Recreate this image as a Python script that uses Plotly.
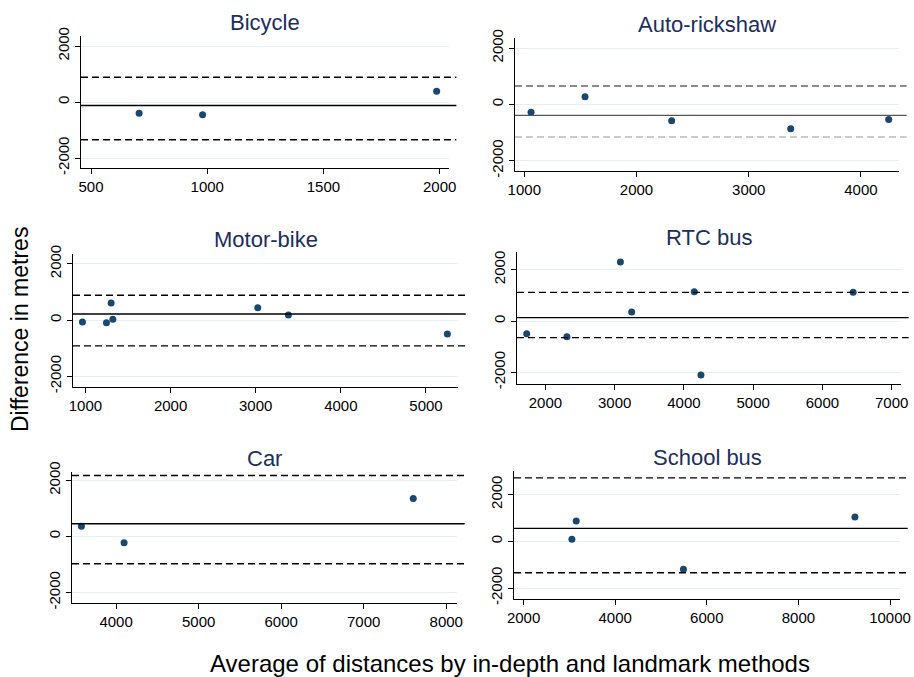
## Bland-Altman style panels: difference vs average distance, by travel mode

import plotly.graph_objects as go

W, H = 914, 677

# panel names
modes = ["Bicycle", "Auto-rickshaw", "Motor-bike", "RTC bus", "Car", "School bus"]

# average of distances (x) and difference in metres (y)
bicycle_x = [707, 980, 1987]
bicycle_y = [-400, -458, 386]
auto_x = [1060, 1541, 2313, 3374, 4247]
auto_y = [-284, 270, -581, -865, -534]
motor_x = [965, 1247, 1302, 1322, 3024, 3384, 5251]
motor_y = [-71, -96, 605, 25, 438, 178, -498]
rtc_x = [1730, 2311, 3083, 3246, 4150, 4246, 6444]
rtc_y = [-490, -607, 2296, 350, 1144, -2101, 1117]
car_x = [3580, 4097, 7600]
car_y = [367, -224, 1352]
school_x = [3055, 3149, 5490, 9234]
school_y = [85, 864, -1191, 1034]

# mean difference and limits of agreement per panel
mean_diff = [-125, -390, 214, 132, 452, 553]
upper_loa = [886, 649, 879, 1117, 2171, 2710]
lower_loa = [-1350, -1160, -915, -646, -972, -1349]

# x tick labels per panel
x_ticks = [
    [500, 1000, 1500, 2000],
    [1000, 2000, 3000, 4000],
    [1000, 2000, 3000, 4000, 5000],
    [2000, 3000, 4000, 5000, 6000, 7000],
    [4000, 5000, 6000, 7000, 8000],
    [2000, 4000, 6000, 8000, 10000],
]
y_ticks = [-2000, 0, 2000]

xs = [bicycle_x, auto_x, motor_x, rtc_x, car_x, school_x]
ys = [bicycle_y, auto_y, motor_y, rtc_y, car_y, school_y]

# layout: pixel boxes (left, right, top, bottom) and axis ranges
boxes = [(81, 449, 36, 168), (515, 899, 38, 171),
         (73, 458, 254, 387), (517, 901, 252, 384),
         (72, 457, 472, 603), (514, 900, 471, 599)]
x_ranges = [[457, 2040], [917, 4339], [854, 5376], [1590, 7135], [3466, 8130], [1791, 10218]]
y_ranges = [[-2357, 2357], [-2365, 2355], [-2375, 2345], [-2451, 2689], [-2370, 2295], [-2468, 3004]]

NAVY = "#1a476f"
TITLE = "#1c2e5c"
FONT = "Liberation Sans, Arial, sans-serif"

fig = go.Figure()
annotations = []
shapes = []

for i, name in enumerate(modes):
    n = "" if i == 0 else str(i + 1)
    l, r, t, b = boxes[i]
    fig.add_trace(go.Scatter(
        x=xs[i], y=ys[i], mode="markers",
        marker=dict(color=NAVY, size=7),
        xaxis="x" + n, yaxis="y" + n, showlegend=False,
    ))
    axis_style = dict(showline=True, linecolor="black", linewidth=1,
                      ticks="outside", ticklen=5, tickcolor="black",
                      zeroline=False, automargin=False,
                      tickfont=dict(size=15, color="black", family=FONT))
    fig.layout["xaxis" + n] = dict(domain=[l / W, r / W], range=x_ranges[i],
                                   tickvals=x_ticks[i],
                                   ticktext=[str(v) for v in x_ticks[i]],
                                   showgrid=False, anchor="y" + n, **axis_style)
    fig.layout["yaxis" + n] = dict(domain=[1 - b / H, 1 - t / H], range=y_ranges[i],
                                   tickvals=y_ticks,
                                   ticktext=[str(v) for v in y_ticks],
                                   tickangle=-90, showgrid=True,
                                   gridcolor="#e6eff1", gridwidth=1,
                                   anchor="x" + n, **axis_style)

    # mean and limits of agreement
    solid_col = "#555555" if i == 1 else "black"
    upper_col = "#666666" if i == 1 else "black"
    lower_col = "#bbbbbb" if i == 1 else "black"
    for val, col, dash in [(mean_diff[i], solid_col, "solid"),
                           (upper_loa[i], upper_col, "7px,4px"),
                           (lower_loa[i], lower_col, "7px,4px")]:
        shapes.append(dict(type="line", xref="x" + n + " domain", yref="y" + n,
                           x0=0.0, x1=1.02, y0=val, y1=val,
                           line=dict(color=col, width=1.4, dash=dash)))

    annotations.append(dict(text=name, x=(l + r) / 2 / W, y=1 - (t - 14) / H,
                            xref="paper", yref="paper", showarrow=False,
                            xanchor="center", yanchor="middle",
                            font=dict(size=22, color=TITLE, family=FONT)))

annotations.append(dict(text="Difference in metres", x=20 / W, y=1 - 330 / H,
                        xref="paper", yref="paper", showarrow=False, textangle=-90,
                        xanchor="center", yanchor="middle",
                        font=dict(size=23, color="black", family=FONT)))
annotations.append(dict(text="Average of distances by in-depth and landmark methods",
                        x=510 / W, y=1 - 663 / H, xref="paper", yref="paper",
                        showarrow=False, xanchor="center", yanchor="middle",
                        font=dict(size=24, color="black", family=FONT)))

fig.update_layout(
    template="none",
    width=W, height=H,
    margin=dict(l=0, r=0, t=0, b=0),
    paper_bgcolor="white", plot_bgcolor="white",
    font=dict(family=FONT),
    annotations=annotations, shapes=shapes,
)

# drop the browser's default body margin so the figure sits at the page corner
fig.write_html("out.html", config={"displayModeBar": False},
               post_script="document.body.style.margin='0';")
